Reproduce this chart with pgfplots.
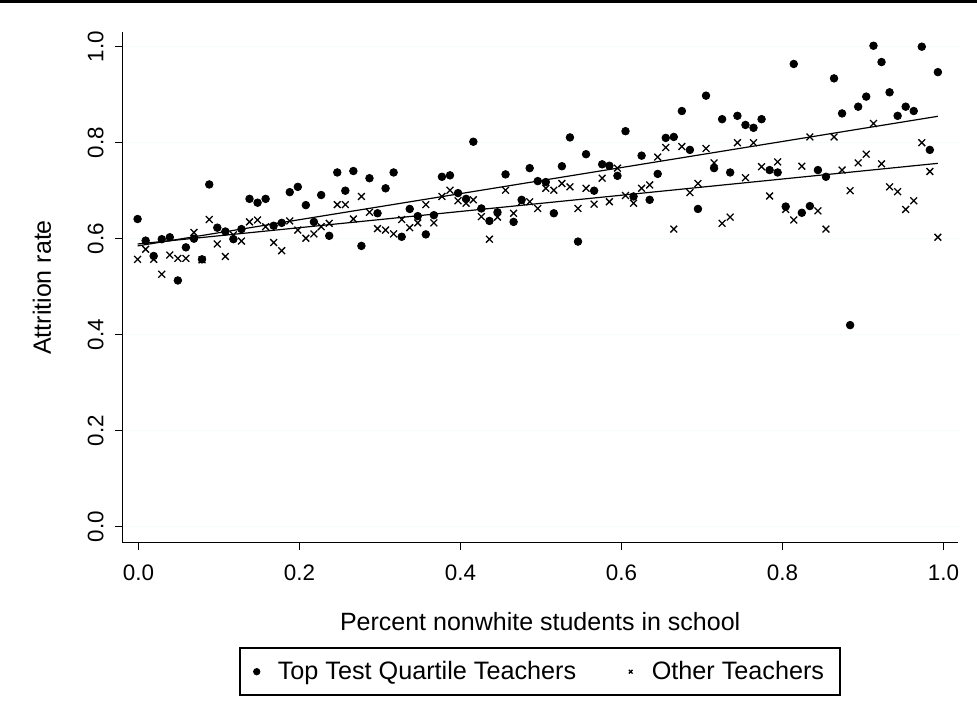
\documentclass[border=0pt]{standalone}
\usepackage{fontspec}
\setmainfont{Liberation Sans}
\usepackage{pgfplots}
\usepackage{pgfplotstable}
\pgfplotsset{compat=1.18}
\pgfplotsset{markleg/.style={legend image code/.code={%
	\path (0pt,0pt) (9.8pt,0pt);
	\draw[##1, mark size=1.3pt] plot coordinates {(1.75pt,0pt)};}}}

% binned attrition rates: x, top quartile teachers, other teachers
\pgfplotstableread{
x top oth
-0.001 0.641 0.557
0.009 0.596 0.578
0.019 0.564 0.557
0.029 0.599 0.526
0.039 0.603 0.566
0.049 0.513 0.559
0.059 0.582 0.559
0.069 0.600 0.613
0.079 0.557 0.556
0.088 0.713 0.640
0.098 0.623 0.589
0.108 0.615 0.563
0.118 0.599 0.608
0.128 0.620 0.595
0.138 0.683 0.635
0.148 0.675 0.639
0.158 0.683 0.625
0.168 0.627 0.592
0.178 0.633 0.575
0.188 0.697 0.637
0.198 0.708 0.618
0.208 0.670 0.601
0.218 0.635 0.610
0.227 0.691 0.625
0.237 0.606 0.632
0.247 0.738 0.671
0.257 0.700 0.671
0.267 0.741 0.641
0.277 0.585 0.688
0.287 0.726 0.655
0.297 0.653 0.621
0.307 0.705 0.618
0.317 0.738 0.610
0.327 0.604 0.640
0.337 0.662 0.623
0.347 0.647 0.633
0.357 0.609 0.671
0.367 0.649 0.633
0.377 0.729 0.688
0.387 0.732 0.701
0.397 0.695 0.679
0.407 0.683 0.674
0.416 0.802 0.681
0.426 0.663 0.646
0.436 0.637 0.599
0.446 0.655 0.645
0.456 0.734 0.701
0.466 0.635 0.653
0.476 0.681 0.677
0.486 0.747 0.677
0.496 0.720 0.663
0.506 0.718 0.705
0.516 0.653 0.701
0.526 0.751 0.715
0.536 0.811 0.708
0.546 0.594 0.663
0.556 0.776 0.705
0.566 0.700 0.672
0.576 0.755 0.726
0.585 0.752 0.677
0.595 0.731 0.747
0.605 0.824 0.690
0.615 0.688 0.674
0.625 0.773 0.705
0.635 0.681 0.712
0.645 0.735 0.770
0.655 0.810 0.790
0.665 0.812 0.620
0.675 0.866 0.792
0.685 0.785 0.696
0.695 0.662 0.715
0.705 0.898 0.788
0.715 0.747 0.758
0.725 0.849 0.632
0.735 0.738 0.645
0.744 0.856 0.800
0.754 0.837 0.727
0.764 0.831 0.800
0.774 0.849 0.750
0.784 0.743 0.689
0.794 0.738 0.760
0.804 0.667 0.661
0.814 0.964 0.639
0.824 0.654 0.751
0.834 0.668 0.812
0.844 0.743 0.658
0.854 0.729 0.620
0.864 0.934 0.812
0.874 0.861 0.743
0.884 0.420 0.700
0.894 0.875 0.758
0.904 0.896 0.776
0.913 1.002 0.840
0.923 0.968 0.756
0.933 0.905 0.708
0.943 0.856 0.698
0.953 0.875 0.661
0.963 0.866 0.679
0.973 1.000 0.800
0.983 0.785 0.740
0.993 0.947 0.603
}\attr

\begin{document}
\begin{tikzpicture}
\begin{axis}[
	at={(0,0)}, anchor=south west,
	scale only axis,
	width=417.85pt, height=255.2pt,
	xmin=-0.02, xmax=1.018,
	ymin=-0.0333, ymax=1.03,
	axis x line*=bottom, axis y line*=left,
	axis line style={line width=0.65pt},
	tick align=outside,
	major tick length=3.5pt,
	tick style={black, line width=0.6pt},
	xtick={0,0.2,0.4,0.6,0.8,1},
	ytick={0,0.2,0.4,0.6,0.8,1},
	ymajorgrids,
	major grid style={color={rgb,255:red,246;green,251;blue,251}, line width=0.5pt},
	/pgf/number format/assume math mode=true,
	/pgf/number format/fixed,
	/pgf/number format/fixed zerofill,
	/pgf/number format/precision=1,
	ticklabel style={font=\fontsize{11.2}{13}\selectfont},
	xticklabel shift=3.8pt,
	yticklabel shift=2.3pt,
	yticklabel style={rotate=90, anchor=south},
	xlabel={Percent nonwhite students in school},
	ylabel={Attrition rate},
	label style={font=\fontsize{12.5}{14}\selectfont},
	xlabel style={at={(axis description cs:0.5,0)}, anchor=center, yshift=-39.5pt},
	ylabel style={at={(axis description cs:0,0.5)}, anchor=center, yshift=40.15pt},
	legend columns=2,
	legend cell align=left,
	legend style={at={(axis description cs:0.5,-0.2527)}, anchor=center,
		draw=black, line width=1pt, inner xsep=6pt, inner ysep=4.5pt,
		font=\fontsize{12.6}{14}\selectfont,
		/tikz/every even column/.append style={column sep=23pt}},
]

\addplot[only marks, mark=*, mark size=1.9pt, black, markleg]
	table[x=x, y=top] {\attr};
\addlegendentry{Top Test Quartile Teachers}

\addplot[only marks, mark=x, mark size=2.4pt, black, mark options={line width=0.65pt}, markleg]
	table[x=x, y=oth] {\attr};
\addlegendentry{Other Teachers}

% fitted lines
\addplot[forget plot, black, line width=0.6pt] coordinates {(-0.001,0.585) (0.993,0.855)};
\addplot[forget plot, black, line width=0.6pt] coordinates {(-0.001,0.589) (0.993,0.757)};

\end{axis}
\draw[line width=1.65pt] (-61.15pt,270.5pt) -- (427.35pt,270.5pt);
\pgfresetboundingbox
\path[use as bounding box] (-61.15pt,-92.15pt) rectangle (427.35pt,271.35pt);
\end{tikzpicture}
\end{document}
